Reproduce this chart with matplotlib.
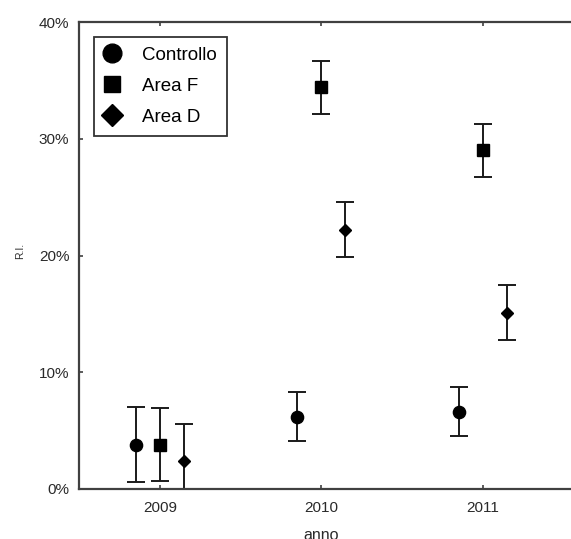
import matplotlib
matplotlib.use("Agg")
import matplotlib.pyplot as plt
from matplotlib.lines import Line2D
from matplotlib.ticker import FuncFormatter
import numpy as np

plt.rcParams["font.family"] = ["Liberation Sans", "DejaVu Sans"]

# Dati (R.I. in %)
anni = [2009, 2010, 2011]
serie = ["Controllo", "Area F", "Area D"]
controllo = [3.8, 6.2, 6.6]
controllo_err = [3.2, 2.1, 2.1]
area_f = [3.8, 34.4, 29.0]
area_f_err = [3.1, 2.3, 2.3]
area_d = [2.4, 22.2, 15.1]
area_d_err = [3.2, 2.35, 2.35]

valori = [controllo, area_f, area_d]
errori = [controllo_err, area_f_err, area_d_err]
marker = ["o", "s", "D"]
ms_plot = [8.8, 8.6, 6.3]
ms_leg = [13.5, 12.2, 11.7]
offset = [-0.15, 0.0, 0.15]

fig = plt.figure(figsize=(5.71, 5.39), dpi=100)
ax = fig.add_axes([79 / 571, 50 / 539, 500 / 571, 467 / 539])

x = np.array(anni, dtype=float)
for val, err, m, ms, dx in zip(valori, errori, marker, ms_plot, offset):
    ax.errorbar(x + dx, val, yerr=err, fmt=m, color="black", ms=ms,
                ecolor="#1a1a1a", elinewidth=1.4, capsize=6.5, capthick=1.4)

ax.set_xlim(2008.5, 2008.5 + 500 / 161.5)
ax.set_ylim(0, 40)
ax.set_xticks(anni)
ax.set_xticklabels([str(a) for a in anni])
ax.set_yticks([0, 10, 20, 30, 40])
ax.yaxis.set_major_formatter(FuncFormatter(lambda v, p: "%d%%" % v))

for s in ["left", "bottom", "top"]:
    ax.spines[s].set_color("#404040")
    ax.spines[s].set_linewidth(1.6)
ax.spines["right"].set_visible(False)

ax.tick_params(direction="in", length=3, width=1.2, color="#404040",
               labelsize=11, labelcolor="#2a2a2a", top=True)
ax.tick_params(axis="x", pad=9)
ax.tick_params(axis="y", pad=7)

fig.text(20 / 571, 1 - 251 / 539, "R.I.", rotation=90, fontsize=7.5,
         ha="center", va="center", color="#2a2a2a")
fig.text(321 / 571, -1.5 / 539, "anno", fontsize=11.5, ha="center",
         va="baseline", color="#2a2a2a")

handles = [Line2D([], [], linestyle="none", marker=m, color="black", ms=ms)
           for m, ms in zip(marker, ms_leg)]
leg = ax.legend(handles, serie, loc="upper left",
                bbox_to_anchor=(15 / 500, (489 - 36.7) / 467),
                borderaxespad=0, fontsize=13.5, frameon=True, fancybox=False,
                borderpad=0.52, labelspacing=0.75, handlelength=0.87,
                handletextpad=1.17)
leg.get_frame().set_edgecolor("black")
leg.get_frame().set_linewidth(1.3)

fig.savefig("out.png", dpi=100)
